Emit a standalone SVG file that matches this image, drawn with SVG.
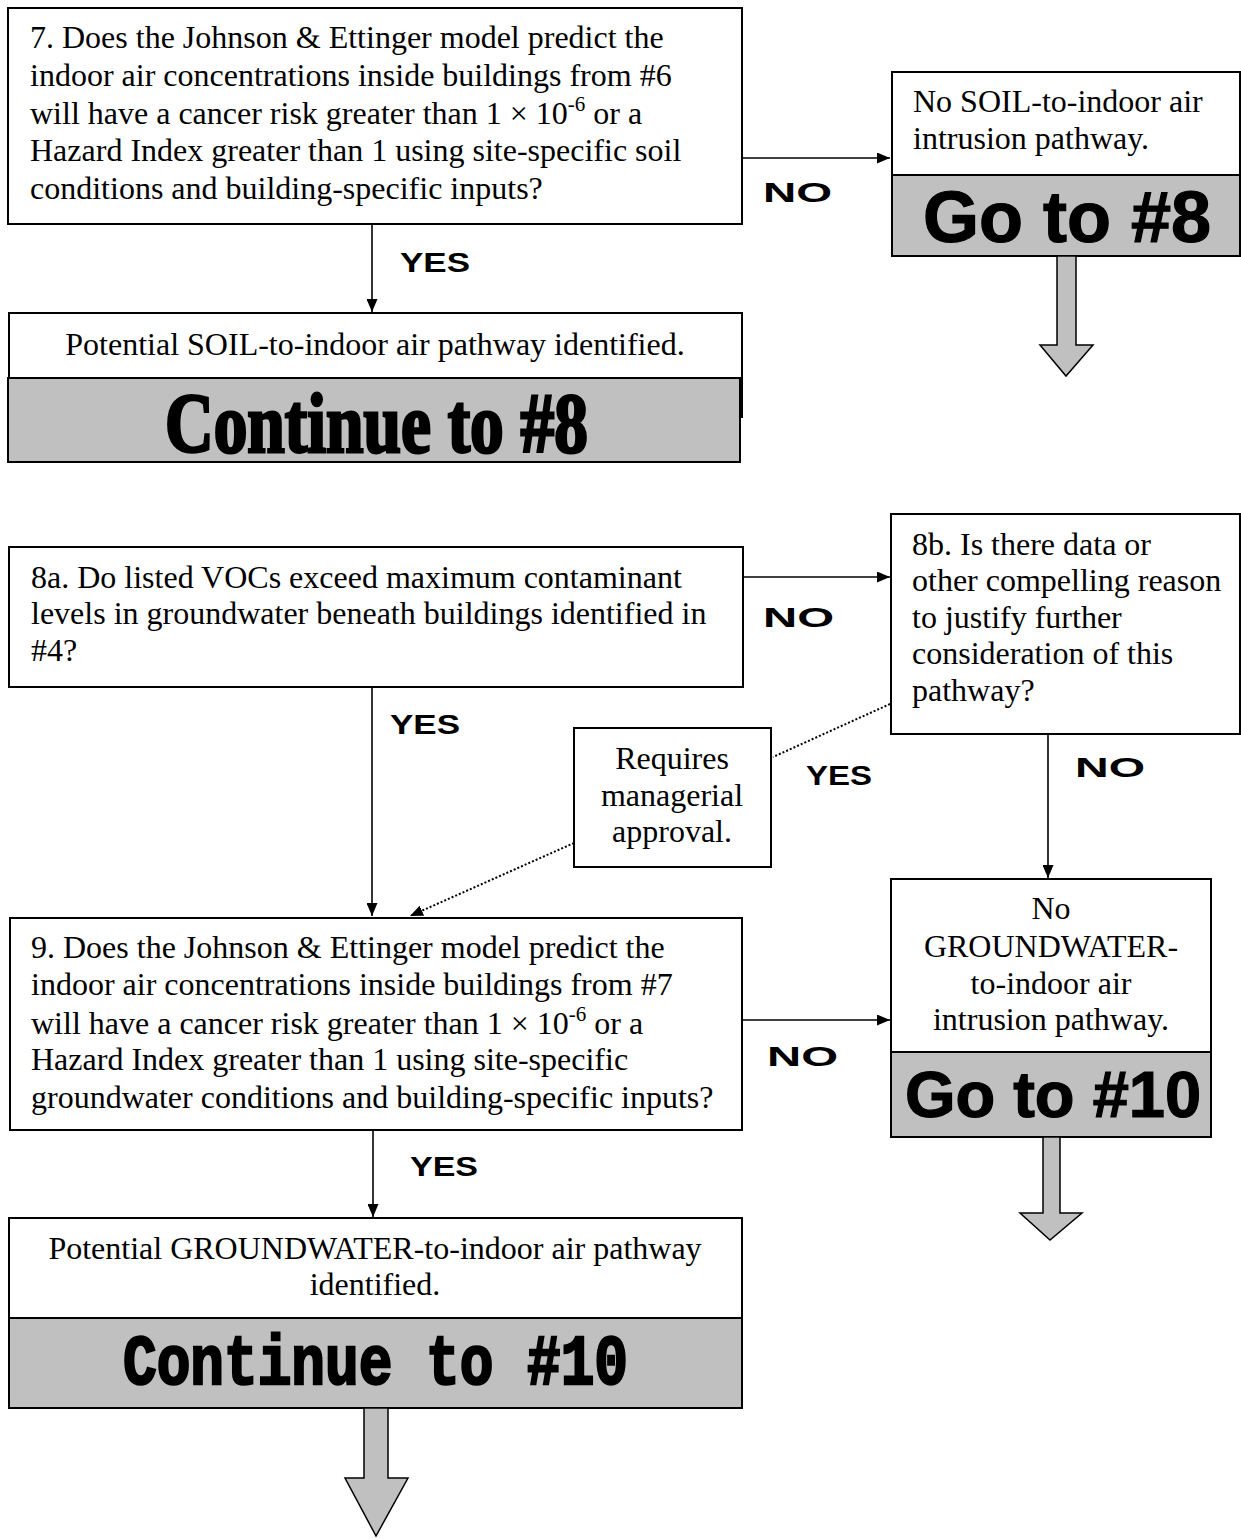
<svg xmlns="http://www.w3.org/2000/svg" width="1241" height="1538" viewBox="0 0 1241 1538">
<style>
.box{fill:#fff;stroke:#000;stroke-width:2}
.gbox{fill:#c0c0c0;stroke:#000;stroke-width:2}
.t{font-family:"Liberation Serif","Times New Roman",serif;font-size:32px;fill:#000}
.big{font-family:"Liberation Sans",Arial,sans-serif;font-weight:bold;fill:#000}
.lbl{font-family:"Liberation Sans",Arial,sans-serif;font-weight:bold;font-size:27px;fill:#000}
.ln{stroke:#000;stroke-width:1.6;fill:none}
.dot{stroke:#000;stroke-width:2;fill:none;stroke-dasharray:2 2}
.garrow{fill:#c0c0c0;stroke:#000;stroke-width:1.5}
</style>
<defs>
<marker id="ah" markerWidth="13" markerHeight="11" refX="13" refY="5.5" orient="auto" markerUnits="userSpaceOnUse">
<path d="M0,0 L13,5.5 L0,11 Z" fill="#000"/>
</marker>
</defs>

<g id="connectors">
<line class="ln" x1="742" y1="158" x2="890" y2="158" marker-end="url(#ah)"/>
<line class="ln" x1="372" y1="224" x2="372" y2="312" marker-end="url(#ah)"/>
<line class="ln" x1="743" y1="577" x2="890" y2="577" marker-end="url(#ah)"/>
<line class="ln" x1="372" y1="687" x2="372" y2="916" marker-end="url(#ah)"/>
<line class="dot" x1="890" y1="704" x2="773" y2="757"/>
<line class="dot" x1="574" y1="843" x2="410" y2="916" marker-end="url(#ah)"/>
<line class="ln" x1="1048" y1="734" x2="1048" y2="878" marker-end="url(#ah)"/>
<line class="ln" x1="742" y1="1020" x2="890" y2="1020" marker-end="url(#ah)"/>
<line class="ln" x1="373" y1="1130" x2="373" y2="1217" marker-end="url(#ah)"/>
<text class="lbl" x="763" y="202" textLength="69" lengthAdjust="spacingAndGlyphs">NO</text>
<text class="lbl" x="400" y="272" textLength="70" lengthAdjust="spacingAndGlyphs">YES</text>
<text class="lbl" x="763" y="627" textLength="71" lengthAdjust="spacingAndGlyphs">NO</text>
<text class="lbl" x="390" y="734" textLength="70" lengthAdjust="spacingAndGlyphs">YES</text>
<text class="lbl" x="806" y="785" textLength="66" lengthAdjust="spacingAndGlyphs">YES</text>
<text class="lbl" x="1075" y="777" textLength="70" lengthAdjust="spacingAndGlyphs">NO</text>
<text class="lbl" x="767" y="1066" textLength="71" lengthAdjust="spacingAndGlyphs">NO</text>
<text class="lbl" x="410" y="1176" textLength="68" lengthAdjust="spacingAndGlyphs">YES</text>
</g>

<g id="n7">
<rect class="box" x="8" y="8" width="734" height="216"/>
<text class="t" x="30" y="48">7. Does the Johnson &amp; Ettinger model predict the</text>
<text class="t" x="30" y="86">indoor air concentrations inside buildings from #6</text>
<text class="t" x="30" y="124">will have a cancer risk greater than 1 × 10<tspan font-size="21" dy="-13">-6</tspan><tspan dy="13"> or a</tspan></text>
<text class="t" x="30" y="161">Hazard Index greater than 1 using site-specific soil</text>
<text class="t" x="30" y="199">conditions and building-specific inputs?</text>
</g>

<g id="n7no">
<rect class="box" x="892" y="72" width="348" height="103"/>
<rect class="gbox" x="892" y="175" width="348" height="81"/>
<text class="t" x="913" y="112">No SOIL-to-indoor air</text>
<text class="t" x="913" y="149">intrusion pathway.</text>
<text class="big" x="1067" y="242" font-size="72" text-anchor="middle" stroke="#000" stroke-width="1.2">Go to #8</text>
<path class="garrow" d="M1057,256 L1076,256 L1076,345 L1093,345 L1066,376 L1040,345 L1057,345 Z"/>
</g>

<g id="n7yes">
<rect class="box" x="9" y="313" width="733" height="104"/>
<rect class="gbox" x="8" y="378" width="732" height="84"/>
<text class="t" x="375" y="355" text-anchor="middle">Potential SOIL-to-indoor air pathway identified.</text>
<text x="165" y="452" font-family="Liberation Serif,serif" font-weight="bold" font-size="84" stroke="#000" stroke-width="3" textLength="423" lengthAdjust="spacingAndGlyphs">Continue to #8</text>
</g>

<g id="n8a">
<rect class="box" x="9" y="547" width="734" height="140"/>
<text class="t" x="31" y="588">8a. Do listed VOCs exceed maximum contaminant</text>
<text class="t" x="31" y="624">levels in groundwater beneath buildings identified in</text>
<text class="t" x="31" y="661">#4?</text>
</g>

<g id="n8b">
<rect class="box" x="891" y="514" width="349" height="220"/>
<text class="t" x="912" y="555">8b. Is there data or</text>
<text class="t" x="912" y="591">other compelling reason</text>
<text class="t" x="912" y="628">to justify further</text>
<text class="t" x="912" y="664">consideration of this</text>
<text class="t" x="912" y="701">pathway?</text>
</g>

<g id="approval">
<rect class="box" x="574" y="728" width="197" height="139"/>
<text class="t" x="672" y="769" text-anchor="middle">Requires</text>
<text class="t" x="672" y="806" text-anchor="middle">managerial</text>
<text class="t" x="672" y="842" text-anchor="middle">approval.</text>
</g>

<g id="n8bno">
<rect class="box" x="891" y="879" width="320" height="173"/>
<rect class="gbox" x="891" y="1052" width="320" height="85"/>
<text class="t" x="1051" y="919" text-anchor="middle">No</text>
<text class="t" x="1051" y="957" text-anchor="middle">GROUNDWATER-</text>
<text class="t" x="1051" y="994" text-anchor="middle">to-indoor air</text>
<text class="t" x="1051" y="1030" text-anchor="middle">intrusion pathway.</text>
<text class="big" x="1053" y="1117" font-size="65" text-anchor="middle" stroke="#000" stroke-width="1.2">Go to #10</text>
<path class="garrow" d="M1043,1137 L1060,1137 L1060,1213 L1082,1213 L1050,1240 L1020,1213 L1043,1213 Z"/>
</g>

<g id="n9">
<rect class="box" x="10" y="918" width="732" height="212"/>
<text class="t" x="31" y="958">9. Does the Johnson &amp; Ettinger model predict the</text>
<text class="t" x="31" y="995">indoor air concentrations inside buildings from #7</text>
<text class="t" x="31" y="1034">will have a cancer risk greater than 1 × 10<tspan font-size="21" dy="-13">-6</tspan><tspan dy="13"> or a</tspan></text>
<text class="t" x="31" y="1070">Hazard Index greater than 1 using site-specific</text>
<text class="t" x="31" y="1108">groundwater conditions and building-specific inputs?</text>
</g>

<g id="n9yes">
<rect class="box" x="9" y="1218" width="733" height="100"/>
<rect class="gbox" x="9" y="1318" width="733" height="90"/>
<text class="t" x="375" y="1259" text-anchor="middle">Potential GROUNDWATER-to-indoor air pathway</text>
<text class="t" x="375" y="1295" text-anchor="middle">identified.</text>
<text x="123" y="1384" font-family="Liberation Mono,monospace" font-weight="bold" font-size="70" stroke="#000" stroke-width="2.5" textLength="505" lengthAdjust="spacingAndGlyphs">Continue to #10</text>
<path class="garrow" d="M364,1408 L388,1408 L388,1478 L408,1478 L376,1536 L345,1478 L364,1478 Z"/>
</g>
</svg>
